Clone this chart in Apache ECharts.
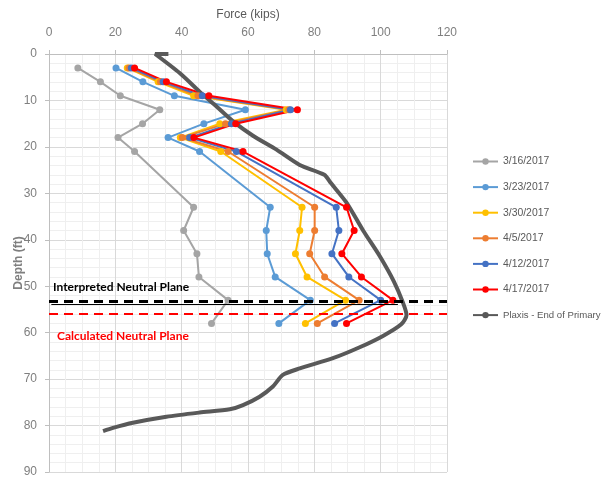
<!DOCTYPE html>
<html>
<head>
<meta charset="utf-8">
<script src="https://cdn.jsdelivr.net/npm/echarts@6/dist/echarts.min.js"></script>
<style>
  html, body { margin: 0; padding: 0; background: #fff; }
  #chart { width: 605px; height: 477px; }
</style>
</head>
<body>
<div id="chart"></div>
<script>
// depth (ft) of each gauge reading
var depths = [3, 6, 9, 12, 15, 18, 21, 33, 38, 43, 48, 53, 58];

// force (kips) per reading date
var f0316 = [8.7, 15.5, 21.5, 33.4, 28.2, 20.8, 25.8, 43.6, 40.6, 44.6, 45.2, 54.0, 49.0];
var f0323 = [20.2, 28.3, 37.8, 59.2, 46.7, 35.9, 45.4, 66.7, 65.5, 65.8, 68.2, 78.8, 69.3];
var f0330 = [23.6, 32.9, 43.6, 71.5, 51.5, 39.6, 51.8, 76.3, 75.6, 74.3, 77.8, 89.4, 77.3];
var f0405 = [24.1, 33.6, 44.9, 72.3, 53.2, 40.2, 54.0, 80.1, 80.1, 78.6, 83.1, 93.5, 80.9];
var f0412 = [24.8, 34.4, 46.2, 72.8, 55.0, 42.4, 56.5, 86.6, 87.4, 85.3, 90.4, 100.0, 86.1];
var f0417 = [25.8, 35.4, 48.2, 74.9, 56.3, 43.7, 58.5, 89.7, 92.0, 88.3, 94.2, 103.7, 89.7];

// Plaxis - End of Primary curve
var plaxisForce = [36, 32, 39.4, 45.4, 50.5, 55.5, 61.5, 68.6, 75.6, 83.0, 85.0, 89.7, 94.7, 99.7, 104.0, 106.7, 107.8, 106.2, 100.7, 93.5, 85.6, 75.6, 70.5, 67.5, 63.5, 58.5, 54.5, 45.4, 35.4, 25.3, 19.3, 16.3];
var plaxisDepth = [0, 0, 4.1, 8.1, 11.3, 14.5, 17.6, 20.6, 23.9, 26.0, 27.8, 32.0, 38.0, 43.5, 49.0, 53.5, 56.2, 58.2, 60.7, 63.2, 65.5, 67.7, 69.1, 71.6, 73.8, 75.6, 76.5, 77.2, 78.1, 79.4, 80.5, 81.2];

var dates = ['3/16/2017', '3/23/2017', '3/30/2017', '4/5/2017', '4/12/2017', '4/17/2017'];
var plaxisName = 'Plaxis - End of Primary';
var colors = ['#A5A5A5', '#5B9BD5', '#FFC000', '#ED7D31', '#4472C4', '#FF0000'];
var readings = [f0316, f0323, f0330, f0405, f0412, f0417];

// neutral planes (ft)
var interpretedPlane = 53.2;
var calculatedPlane = 56.0;
var thinLine = [[0.7, 53.9], [105.2, 53.9]];

var labelFont = '"Liberation Sans", Arial, sans-serif';

function pairs(xs, ys) {
    return xs.map(function (x, i) { return [x, ys[i]]; });
}

function createChart(divName) {
    var chart = echarts.init(document.getElementById(divName));
    var series = readings.map(function (vals, i) {
        return {
            name: dates[i],
            type: 'line',
            data: pairs(vals, depths),
            symbol: 'circle',
            symbolSize: 7,
            color: colors[i],
            lineStyle: { width: 2 },
            animation: false
        };
    });
    series.push({
        name: plaxisName,
        type: 'line',
        data: pairs(plaxisForce, plaxisDepth),
        showSymbol: false,
        symbol: 'none',
        smooth: 0.25,
        color: '#595959',
        lineStyle: { width: 4 },
        animation: false,
        markLine: {
            silent: true,
            symbol: 'none',
            animation: false,
            data: [
                {
                    yAxis: interpretedPlane,
                    lineStyle: { color: '#000', type: [9, 6], width: 3 },
                    label: {
                        show: true, position: 'insideStartTop', formatter: 'Interpreted Neutral Plane',
                        color: '#000', fontWeight: 'bold', fontSize: 12, fontFamily: 'Lato, sans-serif', distance: [4, 8]
                    }
                },
                {
                    yAxis: calculatedPlane,
                    lineStyle: { color: '#FF0000', type: [9, 6], width: 2 },
                    label: {
                        show: true, position: 'insideStartBottom', formatter: 'Calculated Neutral Plane',
                        color: '#FF0000', fontWeight: 'bold', fontSize: 12, fontFamily: 'Lato, sans-serif', distance: [8, 16]
                    }
                },
                [
                    { coord: thinLine[0], lineStyle: { color: '#000', type: 'solid', width: 1 }, label: { show: false } },
                    { coord: thinLine[1] }
                ]
            ]
        }
    });

    var legendData = dates.map(function (d) { return { name: d }; });
    legendData.push({ name: plaxisName, textStyle: { fontSize: 9.6 } });

    var option = {
        backgroundColor: '#fff',
        animation: false,
        grid: { left: 49, top: 54, width: 398, height: 418, containLabel: false, outerBoundsMode: 'none' },
        legend: {
            orient: 'vertical',
            left: 467,
            top: 149.5,
            itemWidth: 25,
            itemHeight: 8,
            itemGap: 11.6,
            textStyle: { color: '#595959', fontSize: 10.4, fontFamily: labelFont, lineHeight: 14 },
            data: legendData
        },
        xAxis: {
            type: 'value',
            position: 'top',
            min: 0, max: 120, interval: 20,
            name: 'Force (kips)',
            nameLocation: 'middle',
            nameGap: 33,
            nameMoveOverlap: false,
            nameTextStyle: { color: '#595959', fontSize: 12, fontFamily: labelFont },
            axisLine: { show: true, lineStyle: { color: '#BFBFBF' } },
            axisTick: { show: true, length: 4, lineStyle: { color: '#BFBFBF' } },
            axisLabel: { color: '#7F7F7F', fontSize: 12, fontFamily: labelFont, margin: 15 },
            splitLine: { show: true, lineStyle: { color: '#D9D9D9' } },
            minorTick: { show: false, splitNumber: 4 },
            minorSplitLine: { show: true, lineStyle: { color: '#EFEFEF' } }
        },
        yAxis: {
            type: 'value',
            inverse: true,
            min: 0, max: 90, interval: 10,
            name: 'Depth (ft)',
            nameLocation: 'middle',
            nameGap: 24,
            nameMoveOverlap: false,
            nameTextStyle: { color: '#7F7F7F', fontSize: 12, fontWeight: 'bold', fontFamily: labelFont },
            axisLine: { show: true, lineStyle: { color: '#BFBFBF' } },
            axisTick: { show: true, length: 4, lineStyle: { color: '#BFBFBF' } },
            axisLabel: { color: '#7F7F7F', fontSize: 12, fontFamily: labelFont, margin: 12 },
            splitLine: { show: true, lineStyle: { color: '#D9D9D9' } },
            minorTick: { show: false, splitNumber: 5 },
            minorSplitLine: { show: true, lineStyle: { color: '#EFEFEF' } }
        },
        series: series
    };
    chart.setOption(option);
}

createChart('chart');
</script>
</body>
</html>
